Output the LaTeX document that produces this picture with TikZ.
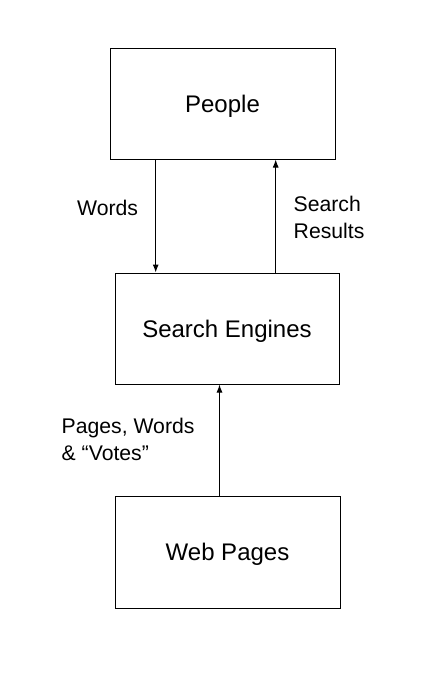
\documentclass[tikz,border=0pt]{standalone}
\usepackage{fontspec}
\setmainfont{Liberation Sans}
\usetikzlibrary{arrows.meta}
\begin{document}
\begin{tikzpicture}[x=1pt,y=-1pt,
  box/.style={draw=black,line width=1pt,rectangle,minimum width=224pt,minimum height=111pt,inner sep=0pt,text depth=0pt,font=\fontsize{24}{28}\selectfont},
  lbl/.style={anchor=west,align=left,inner sep=0pt,font=\fontsize{21.2}{27}\selectfont},
  arr/.style={line width=1pt,-{Latex[length=8pt,width=6pt]}}]
\useasboundingbox[fill=white] (0,0) rectangle (427,673);
\node[box,minimum width=225pt] (people) at (222.5,103.5) {People};
\node[box] (se) at (227,328.5) {Search Engines};
\node[box,minimum width=225pt,minimum height=112pt] (wp) at (227.5,552) {Web Pages};
\coordinate (wx) at (155.7,0);
\coordinate (sx) at (275.7,0);
\coordinate (bx) at (219.5,0);
\draw[arr] (people.south -| wx) -- (se.north -| wx);
\draw[arr] (se.north -| sx) -- (people.south -| sx);
\draw[arr] (wp.north -| bx) -- (se.south -| bx);
\node[lbl] (lw) at (77,208) {Words};
\node[lbl] (ls) at (293.5,217) {Search\\Results};
\node[lbl] (lp) at (61.5,439) {Pages, Words\\\& “Votes”};
\end{tikzpicture}
\end{document}
